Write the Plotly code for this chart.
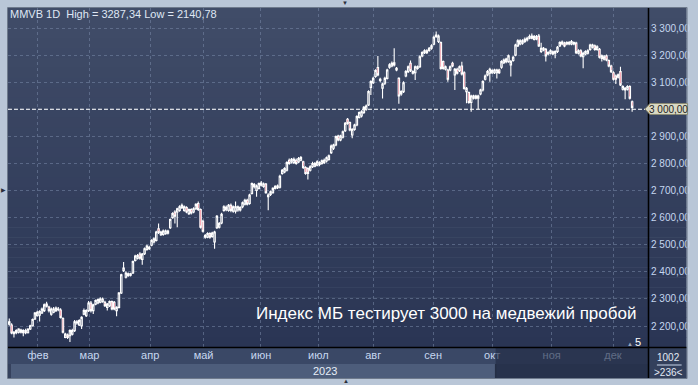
import plotly.graph_objects as go

# ---------------- data ----------------
open_ = [2207,2204,2172,2175,2177,2185,2175,2183,2175,2189,2201,2226,2238,2240,2248,2257,2281,2270,2244,2251,
         2257,2260,2259,2228,2158,2167,2164,2170,2183,2211,2204,2201,2244,2238,2257,2285,2257,2281,2285,2288,
         2290,2288,2269,2275,2290,2288,2257,2269,2322,2405,2380,2386,2388,2396,2442,2450,2466,2446,2467,2483,
         2485,2498,2510,2516,2559,2537,2538,2541,2543,2563,2600,2621,2621,2627,2637,2627,2637,2615,2630,2621,
         2633,2652,2630,2587,2528,2528,2541,2531,2510,2563,2565,2580,2627,2629,2627,2646,2624,2624,2628,2637,
         2640,2650,2664,2652,2689,2722,2700,2708,2720,2715,2724,2677,2686,2692,2708,2711,2712,2763,2769,2775,
         2812,2806,2803,2812,2806,2812,2806,2785,2781,2775,2788,2790,2794,2796,2800,2803,2809,2815,2840,2856,
         2868,2901,2887,2897,2921,2963,2951,2905,2926,2942,2970,2975,2988,3000,3016,3081,3098,3121,3154,3106,
         3078,3096,3114,3155,3160,3172,3145,3114,3057,3065,3123,3139,3170,3133,3135,3151,3157,3197,3209,3216,
         3217,3225,3240,3268,3250,3246,3176,3148,3145,3145,3170,3127,3148,3143,3160,3135,3065,3062,3025,3041,
         3049,3041,3057,3071,3111,3127,3133,3135,3135,3135,3145,3155,3172,3176,3176,3164,3180,3200,3234,3241,
         3244,3250,3256,3262,3270,3258,3260,3270,3213,3219,3221,3204,3207,3212,3207,3213,3234,3241,3244,3241,
         3241,3241,3241,3244,3207,3216,3194,3204,3207,3221,3229,3234,3221,3221,3188,3185,3197,3180,3160,3135,
         3123,3118,3139,3074,3071,3074,3084,3028]
high = [2228,2210,2182,2188,2192,2190,2188,2190,2192,2205,2228,2252,2256,2258,2268,2283,2290,2275,2268,2270,
        2272,2270,2266,2232,2175,2172,2188,2190,2222,2222,2225,2236,2265,2262,2292,2292,2282,2298,2302,2306,
        2305,2293,2285,2294,2294,2292,2273,2326,2393,2436,2402,2398,2397,2442,2463,2466,2472,2470,2490,2500,
        2496,2520,2528,2552,2578,2552,2556,2556,2555,2597,2620,2627,2637,2646,2652,2645,2642,2634,2635,2638,
        2653,2660,2634,2592,2540,2546,2546,2548,2552,2610,2584,2618,2646,2645,2650,2652,2645,2660,2645,2642,
        2660,2670,2670,2688,2730,2728,2722,2730,2735,2730,2728,2690,2700,2712,2720,2722,2758,2780,2786,2808,
        2818,2820,2822,2818,2824,2828,2810,2790,2786,2793,2806,2805,2812,2808,2815,2818,2826,2833,2870,2873,
        2903,2906,2906,2922,2953,2968,2955,2930,2947,2978,2992,2996,3012,3018,3070,3107,3120,3148,3197,3116,
        3098,3120,3150,3170,3176,3225,3156,3118,3070,3103,3145,3162,3180,3144,3162,3162,3199,3214,3222,3222,
        3230,3240,3272,3287.34,3276,3250,3180,3162,3150,3162,3175,3152,3153,3162,3175,3140,3082,3066,3054,3054,
        3054,3054,3076,3107,3128,3145,3153,3148,3150,3150,3150,3181,3187,3190,3202,3182,3197,3242,3258,3258,
        3258,3265,3268,3276,3280,3274,3274,3278,3246,3230,3226,3214,3222,3217,3218,3234,3251,3254,3249,3251,
        3252,3256,3250,3249,3222,3222,3212,3218,3222,3242,3242,3239,3236,3226,3202,3200,3202,3184,3164,3140,
        3128,3132,3157,3089,3082,3089,3089,3032]
low = [2201,2170,2158,2170,2172,2172,2162,2170,2172,2185,2198,2222,2235,2217,2244,2252,2268,2250,2238,2247,
       2252,2255,2228,2172,2155,2152,2140.78,2165,2178,2205,2200,2189,2240,2233,2252,2250,2244,2277,2280,2284,
       2286,2270,2257,2270,2258,2258,2236,2265,2318,2399,2375,2382,2383,2392,2438,2446,2445,2426,2462,2478,
       2481,2494,2505,2512,2540,2532,2533,2537,2538,2558,2596,2578,2565,2622,2632,2622,2616,2610,2612,2616,
       2628,2625,2560,2545,2522,2524,2522,2526,2485,2558,2560,2576,2622,2624,2622,2620,2618,2615,2622,2623,
       2635,2645,2645,2648,2685,2708,2677,2704,2715,2710,2688,2627,2680,2688,2704,2706,2708,2758,2764,2770,
       2795,2800,2798,2795,2802,2808,2780,2758,2741,2770,2783,2786,2790,2790,2795,2798,2804,2810,2835,2850,
       2864,2882,2882,2892,2916,2943,2919,2893,2921,2937,2966,2970,2983,2995,3012,3053,3093,3116,3122,3100,
       3040,3090,3110,3150,3155,3158,3140,3020,3050,3060,3118,3134,3138,3128,3108,3146,3152,3192,3204,3204,
       3212,3220,3236,3264,3245,3146,3146,3143,3102,3140,3155,3071,3128,3138,3125,3072,3022,3020,2991,3036,
       3036,3000,3052,3066,3106,3122,3102,3130,3130,3114,3130,3150,3167,3170,3172,3121,3175,3196,3230,3236,
       3238,3245,3250,3258,3258,3254,3255,3230,3208,3214,3176,3199,3202,3199,3188,3208,3230,3236,3229,3236,
       3236,3236,3236,3204,3202,3192,3151,3199,3202,3216,3224,3216,3216,3187,3176,3180,3177,3155,3134,3106,
       3093,3114,3086,3069,3037,3069,3036,2991]
close = [2216,2174,2177,2183,2189,2177,2183,2175,2189,2201,2224,2248,2251,2253,2263,2278,2273,2257,2263,2263,
         2266,2263,2232,2177,2170,2158,2183,2183,2216,2216,2220,2232,2257,2257,2285,2257,2278,2294,2298,2300,
         2300,2275,2281,2290,2263,2263,2269,2322,2389,2414,2396,2393,2393,2438,2458,2460,2450,2466,2485,2495,
         2491,2516,2522,2547,2545,2547,2551,2551,2551,2593,2615,2605,2633,2640,2646,2640,2621,2630,2617,2633,
         2649,2630,2565,2550,2534,2541,2528,2543,2547,2605,2578,2612,2640,2638,2646,2627,2640,2640,2640,2628,
         2655,2664,2650,2683,2726,2714,2717,2726,2728,2724,2692,2683,2695,2708,2716,2717,2753,2775,2781,2803,
         2800,2815,2815,2800,2818,2822,2785,2763,2763,2788,2800,2800,2806,2803,2810,2812,2821,2828,2864,2868,
         2899,2887,2901,2917,2948,2948,2924,2926,2942,2973,2988,2991,3007,3012,3065,3102,3114,3143,3127,3111,
         3093,3114,3145,3164,3170,3164,3151,3049,3065,3098,3139,3157,3143,3139,3157,3157,3194,3209,3216,3209,
         3225,3234,3266,3274,3270,3151,3151,3157,3111,3157,3160,3148,3133,3157,3130,3077,3077,3025,3049,3049,
         3041,3049,3071,3102,3123,3139,3148,3143,3145,3145,3135,3176,3182,3185,3197,3176,3192,3237,3253,3253,
         3253,3258,3262,3268,3262,3268,3268,3234,3225,3225,3197,3209,3216,3204,3213,3229,3246,3248,3234,3246,
         3246,3250,3246,3209,3216,3197,3207,3213,3216,3237,3237,3221,3231,3192,3197,3194,3182,3160,3139,3111,
         3111,3127,3090,3084,3077,3084,3041,3007]

month_ticks = [12.3, 34.4, 60.4, 83.3, 107.9, 132.5, 156.0, 181.7, 207.0, 232.5, 258.8]
month_labels = ["фев", "мар", "апр", "май", "июн", "июл", "авг", "сен", "окт", "ноя", "дек"]
price_ticks = [2200, 2300, 2400, 2500, 2600, 2700, 2800, 2900, 3100, 3200, 3300]
grid_prices = [3000]
year_label = "2023"
info_text = "MMVB 1D  High = 3287,34 Low = 2140,78"
headline = "Индекс МБ тестирует 3000 на медвежий пробой"
level = 3000
level_label = "3 000,00"
corner_top, corner_bottom = "1002", ">236<"
bar_count_label = "5"

x = list(range(len(close)))

# ---------------- geometry helpers (pixels -> paper) ----------------
W, H = 698, 385
L, R, T, B = 8, 655, 8, 347
def px(v): return (v - L) / (R - L)
def py(v): return (B - v) / (B - T)

FONT = "Liberation Sans, Arial, sans-serif"
AXIS_COL = "#c6d7f0"

fig = go.Figure(go.Candlestick(
    x=x, open=open_, high=high, low=low, close=close,
    increasing=dict(line=dict(color="white", width=1.1), fillcolor="rgba(0,0,0,0)"),
    decreasing=dict(line=dict(color="white", width=1.1), fillcolor="#ee1030"),
    whiskerwidth=0, showlegend=False, hoverinfo="skip"))

shapes = []
top_c, bot_c = (64, 76, 104), (42, 53, 84)
n = 34
for k in range(n):
    t = k / (n - 1)
    c = tuple(round(top_c[i] + (bot_c[i] - top_c[i]) * t) for i in range(3))
    y0 = T + (B - T) * k / n
    y1 = T + (B - T) * (k + 1) / n
    shapes.append(dict(type="rect", xref="paper", yref="paper", layer="below",
                       x0=px(L), x1=px(694), y0=py(y1 + 0.5), y1=py(y0),
                       line=dict(width=0), fillcolor="rgb(%d,%d,%d)" % c))
for gp in grid_prices:
    shapes.append(dict(type="line", xref="paper", yref="y", layer="below", x0=0, x1=1,
                       y0=gp, y1=gp, line=dict(color="rgba(120,136,168,0.55)", width=1, dash="3px,3px")))
shapes += [
    dict(type="rect", xref="paper", yref="paper", layer="below", x0=px(L), x1=px(694),
         y0=py(364), y1=py(B), line=dict(width=0), fillcolor="#3a4866"),
    dict(type="rect", xref="paper", yref="paper", layer="below", x0=px(L), x1=px(694),
         y0=py(378), y1=py(364), line=dict(width=0), fillcolor="#34415d"),
    dict(type="rect", xref="paper", yref="paper", layer="below", x0=px(11), x1=px(501),
         y0=py(378), y1=py(364), line=dict(width=0), fillcolor="#4d5d7b"),
    dict(type="rect", xref="paper", yref="paper", layer="below", x0=px(R), x1=px(694),
         y0=py(378), y1=py(B), line=dict(width=0), fillcolor="#33405c"),
    dict(type="rect", xref="paper", yref="paper", layer="above", x0=px(501), x1=px(R),
         y0=py(378), y1=py(B + 1), line=dict(width=0), fillcolor="rgba(32,42,66,0.62)"),
    dict(type="line", xref="paper", yref="paper", layer="above", x0=px(501), x1=px(501),
         y0=py(378), y1=py(364), line=dict(color="#242e45", width=1.5)),
    dict(type="line", xref="paper", yref="paper", layer="above", x0=px(L), x1=px(694),
         y0=py(B + 0.5), y1=py(B + 0.5), line=dict(color="black", width=1.5)),
    dict(type="line", xref="paper", yref="paper", layer="above", x0=px(R + 0.5), x1=px(R + 0.5),
         y0=py(378), y1=py(T), line=dict(color="black", width=1.5)),
    dict(type="rect", xref="paper", yref="paper", layer="above", x0=px(7.5), x1=px(694.5),
         y0=py(378.5), y1=py(7.5), line=dict(color="#6e7a8c", width=1)),
    dict(type="line", xref="paper", yref="paper", layer="above", x0=px(664), x1=px(689),
         y0=py(365), y1=py(365), line=dict(color="#c8d4e8", width=1)),
    dict(type="line", xref="paper", yref="y", layer="above", x0=0, x1=px(660),
         y0=level, y1=level, line=dict(color="white", width=1, dash="4px,2px")),
    dict(type="path", xref="paper", yref="paper", layer="above",
         path="M %f,%f L %f,%f L %f,%f L %f,%f L %f,%f Z" % (
             px(652), py(109), px(657), py(103.5), px(695), py(103.5),
             px(695), py(114.5), px(657), py(114.5)),
         fillcolor="#d9d9c4", line=dict(color="#8b8b74", width=1)),
]

ann = [
    dict(text=info_text, x=px(8), y=py(14), xanchor="left", yanchor="middle",
         font=dict(size=11, color="#dfe7f4")),
    dict(text=headline, x=px(645), y=py(313), xanchor="right", yanchor="middle",
         font=dict(size=17, color="white")),
    dict(text=year_label, x=px(343), y=py(371), xanchor="right", yanchor="middle",
         font=dict(size=11, color="#e6edf7")),
    dict(text=level_label, x=px(676), y=py(109), xanchor="center", yanchor="middle",
         font=dict(size=10, color="#1e1e1e")),
    dict(text=corner_top, x=px(676), y=py(357), xanchor="center", yanchor="middle",
         font=dict(size=10, color="#e2e9f5")),
    dict(text=corner_bottom, x=px(676), y=py(372), xanchor="center", yanchor="middle",
         font=dict(size=10, color="#e2e9f5")),
    dict(text=bar_count_label, x=px(645), y=py(342), xanchor="center", yanchor="middle",
         font=dict(size=11, color="white")),
    dict(text="▲", x=px(637), y=py(344), xanchor="center", yanchor="middle",
         font=dict(size=6, color="#9aa6bb")),
    dict(text="▼", x=px(349), y=py(3), xanchor="center", yanchor="middle",
         font=dict(size=6, color="#2a2f3a")),
    dict(text="▲", x=px(350), y=py(381), xanchor="center", yanchor="middle",
         font=dict(size=6, color="#2a2f3a")),
    dict(text="▶", x=px(3), y=py(190), xanchor="center", yanchor="middle",
         font=dict(size=6, color="#2a2f3a")),
]
for a in ann:
    a.update(xref="paper", yref="paper", showarrow=False)

grid = dict(gridcolor="rgba(120,136,168,0.55)", griddash="3px,3px", gridwidth=1)

fig.update_layout(
    width=W, height=H,
    margin=dict(l=L, r=W - R, t=T, b=H - B, pad=0),
    paper_bgcolor="#b9c6d7", plot_bgcolor="rgba(0,0,0,0)",
    separators=", ", boxgap=0.12,
    font=dict(family=FONT, size=11, color=AXIS_COL),
    shapes=shapes, annotations=ann,
    xaxis=dict(range=[-0.55, 273.8], tickmode="array", tickvals=month_ticks, ticktext=month_labels,
               showline=False, zeroline=False, ticks="", rangeslider=dict(visible=False),
               tickfont=dict(size=11, color=AXIS_COL), fixedrange=True, **grid),
    yaxis=dict(range=[2122.6, 3373.8], side="right", tickmode="array", tickvals=price_ticks,
               tickformat=",.2f", showline=False, zeroline=False, ticks="",
               tickfont=dict(size=10, color=AXIS_COL), ticklabelstandoff=2, **grid),
)

fig.write_html("out.html", config={"displayModeBar": False},
               post_script="document.body.style.margin='0';document.body.style.overflow='hidden';")
